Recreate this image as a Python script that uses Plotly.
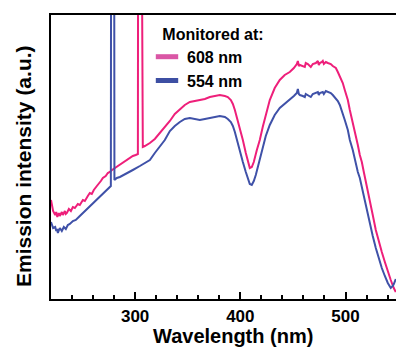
import plotly.graph_objects as go

# ---- data (wavelength in nm, intensity in a.u.) ----
wl_608 = [220, 221, 222, 224, 225, 226, 227.5, 228.4, 230.3, 231.3, 233.2, 234.1, 235.1, 237, 238.9,
          240.8, 242.7, 245.5, 247.4, 250.3, 252.2, 255, 256.9, 258.8, 260.7, 263.6, 265.5, 267.4,
          269.3, 272, 274, 275.9, 278, 280.7, 283, 285.5, 288, 290.2, 292.6, 295, 297.8, 300.5,
          302.6, 303.4, 306.4, 307.3, 309.2, 314, 318.7, 323.5, 328.2, 333, 337.7, 342.5, 347.2,
          352, 356.7, 361.5, 366.3, 371, 375.8, 380.5, 385.3, 388.1, 391, 392.9, 394.8, 396.7,
          399.5, 402.4, 405.2, 407.1, 409, 410.9, 412.8, 415.7, 418.5, 421.3, 424.2, 428, 432.7,
          437.5, 442.2, 447, 450.9, 453.7, 454.7, 455.6, 456.6, 459.4, 461.3, 462.2, 464.2, 467,
          468.9, 471.8, 473.7, 474.6, 475.6, 477.5, 478.4, 479.4, 481.3, 483.2, 486, 487.9, 490.8,
          492.7, 494.6, 497.4, 499.3, 502.2, 504.1, 506.9, 508.8, 511.7, 513.6, 515.5, 517.4,
          519.3, 521.2, 523.1, 525.9, 528.8, 531.6, 534.5, 537.4, 540.2, 543, 545.9, 547.8]
int_608 = [99, 94, 88, 84, 87, 82, 86, 83, 87, 84, 88, 85, 86, 90, 88,
           92, 91, 95, 94, 99, 98, 103, 106, 105, 109, 113, 115, 118,
           121, 123, 126, 127, 129, 131, 132, 134, 136, 138, 139, 141, 143, 144,
           145, 1000, 1000, 152, 153, 156, 160, 166, 172, 178, 185, 190, 194,
           197, 198, 199, 200, 202, 203, 204, 203, 202, 199, 195, 189, 182,
           171, 159, 146, 137, 131, 132, 137, 149, 159, 172, 185, 199, 211,
           219, 224, 227, 231, 235, 238, 233, 234, 233, 232, 236, 235, 232,
           235, 236, 238, 234, 236, 237, 238, 235, 237, 236, 235, 233, 231,
           227, 223, 216, 209, 199, 189, 177, 169, 154, 144, 137, 127,
           118, 108, 99, 84, 69, 57, 47, 37, 27, 19, 11, 7]

wl_554 = [220, 221, 222, 224, 225, 226, 226.5, 228.4, 230.3, 232.2, 234.1, 236, 237.9, 240.8, 243.6,
          247.4, 251.2, 255, 258.8, 262.6, 266.4, 270.2, 274, 276.9, 277.7, 279.5, 280.3, 282.6,
          285.5, 290.2, 295, 297.8, 304.5, 309.2, 314, 318.7, 323.5, 328.2, 333, 337.7, 342.5,
          347.2, 352, 356.7, 361.5, 366.3, 371, 375.8, 380.5, 385.3, 388.1, 391, 392.9, 394.8,
          396.7, 399.5, 402.4, 405.2, 407.1, 409, 410.9, 412.8, 414.7, 416.6, 418.5, 421.3, 424.2,
          428, 432.7, 437.5, 442.2, 447, 450.9, 453.7, 454.7, 455.6, 456.6, 459.4, 461.3, 462.2,
          464.2, 467, 468.9, 471.8, 473.7, 474.6, 475.6, 478.4, 479.4, 481.3, 483.2, 486, 487.9,
          490.8, 492.7, 494.6, 497.4, 499.3, 502.2, 504.1, 506.9, 508.8, 511.7, 513.6, 515.5,
          517.4, 519.3, 521.2, 523.1, 525.9, 528.8, 531.6, 534.5, 537.4, 540.2, 543, 545, 545.9,
          546.8, 547.8]
int_554 = [77, 74, 71, 72, 68, 70, 66, 71, 68, 72, 70, 74, 75, 78, 79,
           83, 87, 90, 94, 99, 103, 107, 111, 113, 1000, 1000, 119, 121,
           122, 125, 128, 129, 133, 136, 139, 146, 152, 159, 168, 173, 177,
           180, 181, 180, 179, 180, 181, 182, 183, 182, 180, 177, 173, 167,
           159, 149, 137, 127, 121, 115, 114, 118, 124, 132, 139, 151, 163,
           174, 184, 191, 195, 199, 203, 206, 210, 205, 204, 203, 202, 205,
           204, 202, 205, 206, 207, 204, 206, 207, 205, 208, 207, 206, 204,
           201, 198, 194, 186, 179, 169, 159, 149, 139, 127, 121, 112,
           103, 93, 83, 75, 63, 51, 41, 31, 23, 16, 11, 13, 15,
           18, 20]

series_names = ["608 nm", "554 nm"]
line_colors = ["#ee1f7a", "#3f51a8"]
swatch_colors = ["#da56a5", "#3d4fa3"]
x_ticks = [300, 400, 500]

FONT = "Liberation Sans, Arial, sans-serif"

fig = go.Figure()
for wl, it, col in [(wl_608, int_608, line_colors[0]), (wl_554, int_554, line_colors[1])]:
    fig.add_trace(go.Scatter(x=wl, y=it, mode="lines", line=dict(color=col, width=2),
                             showlegend=False, hoverinfo="skip"))
# legend entries
for name, col in zip(series_names, swatch_colors):
    fig.add_trace(go.Scatter(x=[None], y=[None], mode="markers", name=name,
                             marker=dict(symbol="line-ew-open", size=16, color=col,
                                         line=dict(color=col, width=5))))

fig.update_layout(
    width=396, height=348,
    margin=dict(l=51, r=0, t=15, b=49),
    paper_bgcolor="white", plot_bgcolor="white",
    font=dict(family=FONT, size=16, color="black", weight="bold"),
    showlegend=True,
    legend=dict(x=(147 - 51) / 345, y=(299 - 19) / 284, xanchor="left", yanchor="top",
                bgcolor="rgba(0,0,0,0)", borderwidth=0,
                title=dict(text="&nbsp;&nbsp;&nbsp;Monitored at:", font=dict(size=16, weight="bold")),
                font=dict(size=16, weight="bold"), itemwidth=30, tracegroupgap=0),
    xaxis=dict(range=[220, 548], showgrid=False, zeroline=False,
               showline=True, linecolor="black", linewidth=2, mirror=True,
               ticks="inside", ticklen=7, tickwidth=1.5, tickcolor="black",
               tickvals=x_ticks, ticktext=[str(v) for v in x_ticks],
               tickfont=dict(size=17, weight="bold"), ticklabelstandoff=1,
               minor=dict(ticks="inside", ticklen=4, tickwidth=1.5, tickcolor="black", dtick=20,
                          tick0=220, showgrid=False)),
    yaxis=dict(range=[0, 284], showgrid=False, zeroline=False,
               showline=True, linecolor="black", linewidth=2, mirror=False,
               showticklabels=False, ticks=""),
    annotations=[
        dict(text="Wavelength (nm)", xref="paper", yref="paper",
             x=(233 - 51) / 345, y=(299 - 336) / 284, xanchor="center", yanchor="middle",
             showarrow=False, font=dict(size=20, weight="bold", family=FONT)),
        dict(text="Emission intensity (a.u.)", xref="paper", yref="paper",
             x=(23 - 51) / 345, y=(299 - 166) / 284, xanchor="center", yanchor="middle",
             textangle=-90, showarrow=False, font=dict(size=21, weight="bold", family=FONT)),
    ],
)

fig.write_html("out.html", config={"displayModeBar": False})

# remove default page margin so the figure sits at the window's top-left corner
with open("out.html", "r", encoding="utf-8") as f:
    html = f.read()
html = html.replace("<body>", '<body style="margin:0;padding:0;overflow:hidden">', 1)
with open("out.html", "w", encoding="utf-8") as f:
    f.write(html)
